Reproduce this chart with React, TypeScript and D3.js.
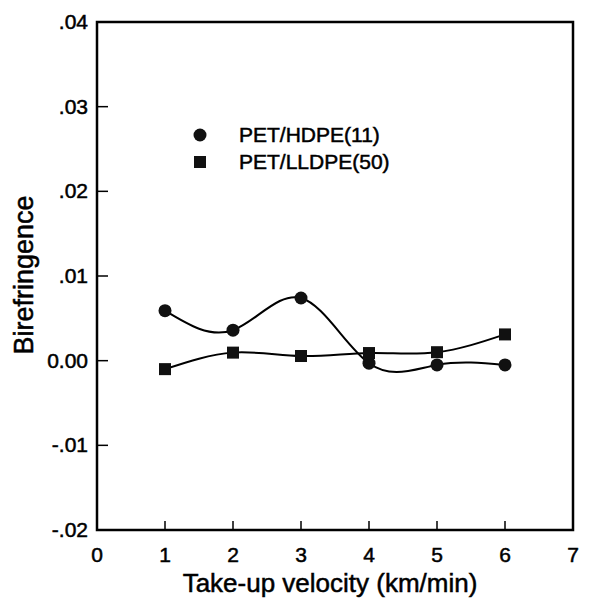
import * as d3 from "d3";

const velocity = [1, 2, 3, 4, 5, 6];
const hdpe = [0.0059, 0.0036, 0.0074, -0.0003, -0.0005, -0.0005];
const lldpe = [-0.001, 0.00095, 0.00055, 0.0009, 0.001, 0.0031];
const xTicks = [0, 1, 2, 3, 4, 5, 6, 7];
const yTicks = [-0.02, -0.01, 0, 0.01, 0.02, 0.03, 0.04];
const yTickLabels = ["-.02", "-.01", "0.00", ".01", ".02", ".03", ".04"];

const width = 611;
const height = 612;
const left = 97;
const right = 573;
const top = 22;
const bottom = 530;
const font = "Arial, 'Liberation Sans', Helvetica, sans-serif";

const App = () => {
  const x = d3.scaleLinear().domain([0, 7]).range([left, right]);
  const y = d3.scaleLinear().domain([-0.02, 0.04]).range([bottom, top]);

  const line = d3
    .line<number>()
    .x((_, i) => x(velocity[i]))
    .y((d) => y(d))
    .curve(d3.curveNatural);

  return (
    <svg
      width={width}
      height={height}
      style={{ position: "absolute", left: 0, top: 0, background: "#fff" }}
      fontFamily={font}
    >
      <rect x={0} y={0} width={width} height={height} fill="#fff" />

      {/* curves */}
      <path d={line(hdpe) || ""} fill="none" stroke="#000" strokeWidth={2} />
      <path d={line(lldpe) || ""} fill="none" stroke="#000" strokeWidth={2} />

      {/* markers */}
      {hdpe.map((v, i) => (
        <circle key={"c" + i} cx={x(velocity[i])} cy={y(v)} r={6.5} fill="#111" />
      ))}
      {lldpe.map((v, i) => (
        <rect
          key={"s" + i}
          x={x(velocity[i]) - 6}
          y={y(v) - 6}
          width={12}
          height={12}
          fill="#111"
        />
      ))}

      {/* frame */}
      <rect
        x={left}
        y={top}
        width={right - left}
        height={bottom - top}
        fill="none"
        stroke="#000"
        strokeWidth={2.5}
      />

      <g fill="#000" stroke="#000" strokeWidth={0.5}>
        {/* x ticks */}
        {xTicks.map((t) => (
          <g key={"x" + t}>
            {t > 0 && t < 7 && (
              <line x1={x(t)} x2={x(t)} y1={bottom} y2={bottom - 9} strokeWidth={1.5} />
            )}
            <text x={x(t)} y={562} fontSize={21} textAnchor="middle">
              {t}
            </text>
          </g>
        ))}

        {/* y ticks */}
        {yTicks.map((t, i) => (
          <g key={"y" + t}>
            {i > 0 && i < yTicks.length - 1 && (
              <line x1={left} x2={left + 11} y1={y(t)} y2={y(t)} strokeWidth={1.5} />
            )}
            <text x={88} y={y(t) + 7} fontSize={21} textAnchor="end">
              {yTickLabels[i]}
            </text>
          </g>
        ))}

        {/* axis titles */}
        <text x={330} y={592} fontSize={26} textAnchor="middle">
          Take-up velocity (km/min)
        </text>
        <text transform="translate(33,275) rotate(-90)" fontSize={27} textAnchor="middle">
          Birefringence
        </text>

        {/* legend */}
        <text x={239} y={142} fontSize={21}>
          PET/HDPE(11)
        </text>
        <text x={239} y={169} fontSize={21}>
          PET/LLDPE(50)
        </text>
      </g>
      <circle cx={200} cy={135} r={6.5} fill="#111" />
      <rect x={194} y={156} width={12} height={12} fill="#111" />
    </svg>
  );
};

export default App;
